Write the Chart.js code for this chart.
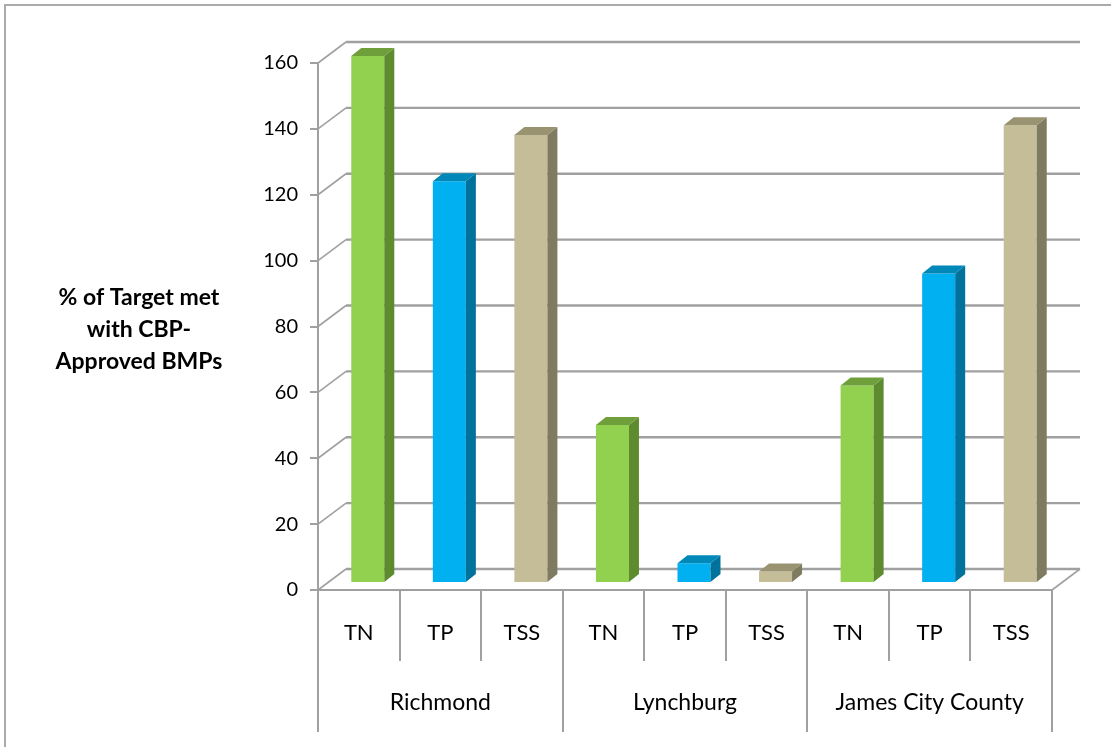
<!DOCTYPE html>
<html>
<head>
<meta charset="utf-8">
<title>% of Target met with CBP-Approved BMPs</title>
<script src="https://cdn.jsdelivr.net/npm/chart.js@4/dist/chart.umd.min.js"></script>
<style>
  html, body { margin: 0; padding: 0; background: #ffffff; }
  canvas { display: block; }
</style>
</head>
<body>
<canvas id="chart" width="1111" height="747"></canvas>
<script>
// Localities and the pollutants reported for each one
const groups = ['Richmond', 'Lynchburg', 'James City County'];
const pollutants = ['TN', 'TP', 'TSS'];

// Percent of target met, one value per locality
const tnValues = [160, 48, 60];
const tpValues = [122, 6, 94];
const tssValues = [136, 3.5, 139];

// Value axis
const yMin = 0;
const yMax = 160;
const yStep = 20;

const yTitleLines = ['% of Target met', 'with CBP-', 'Approved BMPs'];

// Face colours per pollutant: front, side, top
const faceColors = {
  TN:  { front: '#92D050', side: '#5F8B2F', top: '#6F9F3A' },
  TP:  { front: '#00B0F0', side: '#00729C', top: '#0088B8' },
  TSS: { front: '#C4BD97', side: '#7F7B60', top: '#999372' }
};

const seriesByPollutant = { TN: tnValues, TP: tpValues, TSS: tssValues };

// Flatten into one category per (locality, pollutant)
const labels = [];
const values = [];
const fronts = [];
groups.forEach((g, gi) => {
  pollutants.forEach(p => {
    labels.push(p);
    values.push(seriesByPollutant[p][gi]);
    fronts.push(faceColors[p].front);
  });
});

// Oblique projection of the floor depth and of the bars
const FLOOR_DX = 28, FLOOR_DY = -21;   // full depth of the plot box
const BAR_SHIFT_X = 9, BAR_SHIFT_Y = -7; // bar front plane inside the box
const BAR_DX = 10, BAR_DY = -8;         // thickness of each bar

const LINE = '#a0a0a0';
const FONT = 'Lato, "Open Sans", "DejaVu Sans", sans-serif';

const frame3d = {
  id: 'frame3d',
  beforeDatasetsDraw(chart) {
    const { ctx, chartArea, scales } = chart;
    const y = scales.y;
    ctx.save();
    ctx.lineCap = 'butt';
    // side wall diagonals and back wall gridlines
    y.ticks.forEach(t => {
      const py = y.getPixelForValue(t.value);
      ctx.strokeStyle = LINE;
      ctx.lineWidth = 1.6;
      ctx.beginPath();
      ctx.moveTo(chartArea.left, py);
      ctx.lineTo(chartArea.left + FLOOR_DX, py + FLOOR_DY);
      ctx.stroke();
      ctx.lineWidth = 2.4;
      ctx.beginPath();
      ctx.moveTo(chartArea.left + FLOOR_DX, py + FLOOR_DY);
      ctx.lineTo(chartArea.right + FLOOR_DX, py + FLOOR_DY);
      ctx.stroke();
    });
    // right edge of the floor
    const base = y.getPixelForValue(yMin);
    ctx.lineWidth = 1.6;
    ctx.beginPath();
    ctx.moveTo(chartArea.right, base);
    ctx.lineTo(chartArea.right + FLOOR_DX, base + FLOOR_DY);
    ctx.stroke();
    ctx.restore();
  },
  beforeDatasetDraw(chart) {
    chart.ctx.save();
    chart.ctx.translate(BAR_SHIFT_X, BAR_SHIFT_Y);
  },
  afterDatasetDraw(chart, args) {
    const { ctx } = chart;
    const meta = args.meta;
    meta.data.forEach((bar, i) => {
      const p = bar.getProps(['x', 'y', 'base', 'width'], true);
      const l = p.x - p.width / 2, r = p.x + p.width / 2;
      const col = faceColors[labels[i]];
      // side face
      ctx.fillStyle = col.side;
      ctx.beginPath();
      ctx.moveTo(r, p.y);
      ctx.lineTo(r + BAR_DX, p.y + BAR_DY);
      ctx.lineTo(r + BAR_DX, p.base + BAR_DY);
      ctx.lineTo(r, p.base);
      ctx.closePath();
      ctx.fill();
      // top face
      ctx.fillStyle = col.top;
      ctx.beginPath();
      ctx.moveTo(l, p.y);
      ctx.lineTo(l + BAR_DX, p.y + BAR_DY);
      ctx.lineTo(r + BAR_DX, p.y + BAR_DY);
      ctx.lineTo(r, p.y);
      ctx.closePath();
      ctx.fill();
    });
    ctx.restore();
  },
  afterDraw(chart) {
    const { ctx, chartArea, scales, width, height } = chart;
    const x = scales.x;
    const base = scales.y.getPixelForValue(yMin);
    const n = labels.length;
    const step = (chartArea.right - chartArea.left) / n;
    ctx.save();
    ctx.strokeStyle = LINE;
    ctx.lineWidth = 2;
    // category separators; longer ones between localities
    for (let i = 0; i <= n; i++) {
      const px = Math.round(chartArea.left + i * step);
      const bottom = (i % pollutants.length === 0) ? 732 : 661;
      ctx.beginPath();
      ctx.moveTo(px, base);
      ctx.lineTo(px, bottom);
      ctx.stroke();
    }
    // locality labels
    ctx.fillStyle = '#000';
    ctx.font = '23px ' + FONT;
    ctx.textAlign = 'center';
    ctx.textBaseline = 'middle';
    groups.forEach((g, gi) => {
      const a = x.getPixelForValue(gi * 3);
      const b = x.getPixelForValue(gi * 3 + 2);
      ctx.fillText(g, (a + b) / 2, 703);
    });
    // value axis title
    ctx.font = 'bold 23px ' + FONT;
    yTitleLines.forEach((t, i) => ctx.fillText(t, 139, 298 + i * 32));
    // outer frame
    ctx.strokeStyle = '#ababab';
    ctx.lineWidth = 2;
    ctx.beginPath();
    ctx.moveTo(5, height);
    ctx.lineTo(5, 5);
    ctx.lineTo(width, 5);
    ctx.stroke();
    ctx.restore();
  }
};

new Chart(document.getElementById('chart'), {
  type: 'bar',
  data: {
    labels: labels,
    datasets: [{
      data: values,
      backgroundColor: fronts,
      borderWidth: 0,
      categoryPercentage: 1,
      barPercentage: 0.405,
      clip: false
    }]
  },
  options: {
    responsive: false,
    animation: false,
    devicePixelRatio: 1,
    layout: { padding: { top: 63, right: 59, left: 0, bottom: 0 } },
    plugins: { legend: { display: false }, tooltip: { enabled: false } },
    scales: {
      x: {
        offset: true,
        grid: { display: false, drawTicks: false },
        border: { display: true, color: LINE, width: 2 },
        ticks: { color: '#000', font: { family: FONT, size: 22 }, padding: 30, maxRotation: 0, autoSkip: false },
        afterFit(s) { s.height = 157; }
      },
      y: {
        min: yMin,
        max: yMax,
        ticks: { stepSize: yStep, color: '#000', font: { family: FONT, size: 20 }, padding: 12 },
        grid: { drawOnChartArea: false, drawTicks: true, tickLength: 8, color: LINE, lineWidth: 2 },
        border: { display: true, color: LINE, width: 2 },
        afterFit(s) { s.width = 318; }
      }
    }
  },
  plugins: [frame3d]
});
</script>
</body>
</html>
